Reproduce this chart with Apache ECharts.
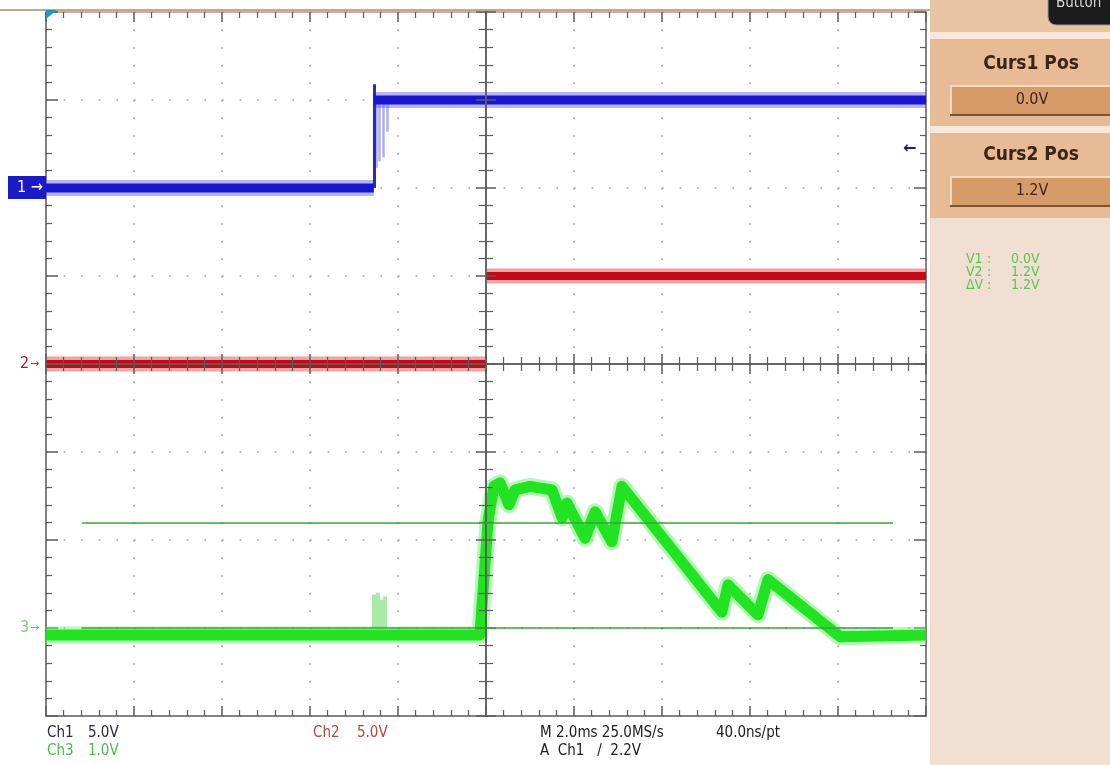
<!DOCTYPE html>
<html>
<head>
<meta charset="utf-8">
<script src="https://cdn.jsdelivr.net/npm/echarts@6/dist/echarts.min.js"></script>
<style>
  body { margin: 0; background: #fff; }
  #main { width: 1110px; height: 765px; }
</style>
</head>
<body>
<div id="main"></div>
<script type="text/javascript">
// time base 2.0 ms/div (x in ms), trace positions in screen divisions (y)
var timeRange = [-10, 10, 2];
var divRange = [-4, 4, 1];

// Ch1 (blue, 5.0V/div)
var ch1Time = [-10, -2.55, -2.55, -2.55, 10];
var ch1Div = [2.0, 2.0, null, 3.0, 3.0];
var ch1EdgeTime = [-2.55];
var ch1EdgeLow = [2.0];
var ch1EdgeHigh = [3.18];
var ch1GlitchTime = [-2.5, -2.42, -2.34, -2.25];
var ch1GlitchLow = [2.23, 2.3, 2.35, 2.64];

// Ch2 (red, 5.0V/div)
var ch2Time = [-10, 0, 0, 0, 10];
var ch2Div = [0.0, 0.0, null, 1.0, 1.0];

// Ch3 (green, 1.0V/div)
var ch3Time = [-10, -0.14, 0.05, 0.18, 0.32, 0.52, 0.66, 1.0, 1.5, 1.73, 1.84, 2.25, 2.48, 2.86, 3.09, 5.36, 5.5, 6.18, 6.41, 8.05, 10];
var ch3Div = [-3.08, -3.08, -1.77, -1.39, -1.35, -1.6, -1.43, -1.39, -1.43, -1.75, -1.58, -1.98, -1.68, -2.02, -1.39, -2.82, -2.51, -2.85, -2.45, -3.1, -3.08];
var ch3GlitchTime = [-2.54, -2.46, -2.38, -2.3];
var ch3GlitchTop = [-2.62, -2.6, -2.68, -2.64];

// cursors (Ch3): 0.0V and 1.2V
var cursorDiv = [-3.0, -1.8];
var cursorSpan = [-9.18, 9.25];

// channel ground markers and trigger level
var markerLabels = ['1', '2', '3'];
var markerDiv = [2.0, 0.0, -3.0];
var triggerDiv = 2.44;

var gridColor = '#5c5c5c';

function pairs(xs, ys) {
  return xs.map(function (x, i) { return [x, ys[i] == null ? '-' : ys[i]]; });
}

function segs(xs, a, b) {
  return xs.map(function (x, i) {
    return { coords: [[x, a[i] != null ? a[i] : a[0]], [x, b[i]]] };
  });
}

function axis(dim, position, opts) {
  var r = dim === 'x' ? timeRange : divRange;
  return {
    type: 'value',
    position: position,
    min: r[0], max: r[1], interval: r[2],
    z: opts.z || 1,
    axisLabel: { show: false },
    axisLine: {
      show: true,
      onZero: !!opts.onZero,
      onZeroAxisIndex: opts.onZero ? opts.zeroIndex : undefined,
      lineStyle: { color: opts.lineColor || gridColor, width: 1.5 }
    },
    axisTick: { show: true, inside: opts.inside, length: opts.major, lineStyle: { color: gridColor, width: 1.5 } },
    minorTick: { show: true, splitNumber: 5, length: opts.minor, lineStyle: { color: gridColor, width: 1.2 } },
    splitLine: {
      show: !!opts.split,
      lineStyle: { color: '#9c9c9c', width: 1.6, type: [1.6, 16] }
    },
    minorSplitLine: { show: false }
  };
}

var chart = echarts.init(document.getElementById('main'));

var option = {
  animation: false,
  backgroundColor: '#ffffff',
  grid: { left: 46, top: 12, width: 880, height: 704, show: false, outerBoundsMode: 'none' },
  xAxis: [
    axis('x', 'bottom', { inside: true, major: 10, minor: 6, split: true }),
    axis('x', 'top', { inside: true, major: 10, minor: 6, lineColor: '#b89484' }),
    axis('x', 'bottom', { onZero: true, zeroIndex: 0, inside: true, major: 10, minor: 7, z: 5 }),
    axis('x', 'bottom', { onZero: true, zeroIndex: 1, inside: false, major: 10, minor: 7, z: 5 })
  ],
  yAxis: [
    axis('y', 'left', { inside: true, major: 12, minor: 6, split: true }),
    axis('y', 'right', { inside: true, major: 12, minor: 6 }),
    axis('y', 'left', { onZero: true, zeroIndex: 0, inside: true, major: 10, minor: 7, z: 5 }),
    axis('y', 'left', { onZero: true, zeroIndex: 1, inside: false, major: 10, minor: 7, z: 5 })
  ],
  series: [
    {
      type: 'lines', coordinateSystem: 'cartesian2d', silent: true, z: 2,
      data: segs(ch1GlitchTime, [3.0], ch1GlitchLow),
      lineStyle: { color: '#aeb0ee', width: 2.5, opacity: 1 }
    },
    {
      type: 'line', data: pairs(ch1Time, ch1Div), symbol: 'none', silent: true, z: 2,
      lineStyle: { color: 'rgba(90,90,235,0.45)', width: 16, cap: 'butt' }
    },
    {
      type: 'line', data: pairs(ch1Time, ch1Div), symbol: 'none', silent: true, z: 3,
      lineStyle: { color: '#1a16cc', width: 9, cap: 'butt' }
    },
    {
      type: 'lines', coordinateSystem: 'cartesian2d', silent: true, z: 3,
      data: segs(ch1EdgeTime, ch1EdgeLow, ch1EdgeHigh),
      lineStyle: { color: '#2a26d0', width: 3, opacity: 1 }
    },
    {
      type: 'line', data: pairs(ch2Time, ch2Div), symbol: 'none', silent: true, z: 2,
      lineStyle: { color: 'rgba(225,70,80,0.5)', width: 15, cap: 'butt' }
    },
    {
      type: 'line', data: pairs(ch2Time, ch2Div), symbol: 'none', silent: true, z: 3,
      lineStyle: { color: '#c40a14', width: 8, cap: 'butt' }
    },
    {
      type: 'lines', coordinateSystem: 'cartesian2d', silent: true, z: 2,
      data: segs(ch3GlitchTime, [-3.0], ch3GlitchTop),
      lineStyle: { color: '#a8eaa8', width: 4, opacity: 1 }
    },
    {
      type: 'line', data: pairs(ch3Time, ch3Div), symbol: 'none', silent: true, z: 2,
      lineStyle: { color: 'rgba(110,240,110,0.5)', width: 17, cap: 'butt', join: 'round' }
    },
    {
      type: 'line', data: pairs(ch3Time, ch3Div), symbol: 'none', silent: true, z: 3,
      lineStyle: { color: '#22e322', width: 11, cap: 'butt', join: 'round' }
    },
    {
      type: 'lines', coordinateSystem: 'cartesian2d', silent: true, z: 6,
      data: cursorDiv.map(function (d) { return { coords: [[cursorSpan[0], d], [cursorSpan[1], d]] }; }),
      lineStyle: { color: '#3f9f3f', width: 1.5, opacity: 1 }
    }
  ]
};

chart.setOption(option);

// overlay: scope frame, channel markers, readouts
var textFont = '"DejaVu Sans Condensed", "Liberation Sans Narrow", "Liberation Sans", sans-serif';
var markerColors = [
  { box: '#1c1ac6', text: '#ffffff' },
  { box: null, text: '#8a2a2a', arrow: '#c82a30' },
  { box: null, text: '#7ccc7c', arrow: '#50c850' }
];

var graphics = [
  { type: 'line', shape: { x1: 0, y1: 10, x2: 930, y2: 10 }, style: { stroke: '#c7a595', lineWidth: 2 }, z: 10 },
  { type: 'polygon', shape: { points: [[46, 10], [57, 10], [46, 19]] }, style: { fill: '#2a98b2' }, z: 11 }
];

markerDiv.forEach(function (d, i) {
  var y = chart.convertToPixel({ yAxisIndex: 0 }, d);
  var c = markerColors[i];
  if (c.box) {
    graphics.push({ type: 'rect', shape: { x: 8, y: y - 12, width: 38, height: 23 }, style: { fill: c.box }, z: 10 });
    graphics.push({ type: 'text', x: 17, y: y, style: { text: markerLabels[i] + ' \u2192', fill: c.text, font: '16px ' + textFont, verticalAlign: 'middle' }, z: 11 });
  } else {
    graphics.push({ type: 'text', x: 20, y: y, style: { text: markerLabels[i], fill: c.text, font: '16px ' + textFont, verticalAlign: 'middle' }, z: 11 });
    graphics.push({ type: 'text', x: 30, y: y, style: { text: '\u2192', fill: c.arrow, font: '11px "DejaVu Sans", sans-serif', verticalAlign: 'middle' }, z: 11 });
  }
});

var trigY = chart.convertToPixel({ yAxisIndex: 0 }, triggerDiv);
graphics.push({ type: 'text', x: 903, y: trigY, style: { text: '\u2190', fill: '#1c1a80', font: 'bold 16px "DejaVu Sans", sans-serif', verticalAlign: 'middle' }, z: 11 });

// bottom status line
var statusTexts = [
  ['Ch1', 47, 733, '#2a2a48'], ['5.0V', 88, 733, '#2a2a48'],
  ['Ch2', 313, 733, '#b04848'], ['5.0V', 357, 733, '#b04848'],
  ['M 2.0ms 25.0MS/s', 540, 733, '#202020'], ['40.0ns/pt', 716, 733, '#202020'],
  ['Ch3', 47, 751, '#48c048'], ['1.0V', 88, 751, '#48c048'],
  ['A  Ch1   /  2.2V', 540, 751, '#202020']
];
statusTexts.forEach(function (t) {
  graphics.push({ type: 'text', x: t[1], y: t[2], style: { text: t[0], fill: t[3], font: '15px ' + textFont, verticalAlign: 'middle' }, z: 11 });
});

// right-hand menu panel
var panel = [
  { type: 'rect', shape: { x: 930, y: 0, width: 180, height: 765 }, style: { fill: '#f1e0d1' } },
  { type: 'rect', shape: { x: 930, y: 0, width: 180, height: 32 }, style: { fill: '#e9c4a3' } },
  { type: 'rect', shape: { x: 930, y: 32, width: 180, height: 7 }, style: { fill: '#f8e7da' } },
  { type: 'rect', shape: { x: 930, y: 39, width: 180, height: 87 }, style: { fill: '#e6bb96' } },
  { type: 'rect', shape: { x: 930, y: 126, width: 180, height: 7 }, style: { fill: '#f8e7da' } },
  { type: 'rect', shape: { x: 930, y: 133, width: 180, height: 85 }, style: { fill: '#e6bb96' } },
  { type: 'rect', shape: { x: 1048, y: -12, width: 72, height: 37, r: 8 }, style: { fill: '#1c1c1c', stroke: '#9a9a9a', lineWidth: 1 } },
  { type: 'text', x: 1056, y: -4, style: { text: 'Button', fill: '#d8d8d8', font: '15px ' + textFont } }
];
[[85, '0.0V', 'Curs1 Pos', 64], [176, '1.2V', 'Curs2 Pos', 155]].forEach(function (f) {
  panel.push({ type: 'rect', shape: { x: 950, y: f[0], width: 160, height: 31 }, style: { fill: '#d59c69' } });
  panel.push({ type: 'line', shape: { x1: 950, y1: f[0] + 1, x2: 1110, y2: f[0] + 1 }, style: { stroke: '#f6d8bc', lineWidth: 2 } });
  panel.push({ type: 'line', shape: { x1: 951, y1: f[0], x2: 951, y2: f[0] + 31 }, style: { stroke: '#f6d8bc', lineWidth: 2 } });
  panel.push({ type: 'line', shape: { x1: 950, y1: f[0] + 30, x2: 1110, y2: f[0] + 30 }, style: { stroke: '#7a5236', lineWidth: 2 } });
  panel.push({ type: 'text', x: 1032, y: f[0] + 15, style: { text: f[1], fill: '#4a1c1c', font: '16px ' + textFont, align: 'center', verticalAlign: 'middle' } });
  panel.push({ type: 'text', x: 1031, y: f[3], style: { text: f[2], fill: '#3a2418', font: 'bold 19px "DejaVu Sans Condensed", "DejaVu Sans", sans-serif', align: 'center', verticalAlign: 'middle' } });
});
[['V1', '0.0V', 259], ['V2', '1.2V', 272], ['\u0394V', '1.2V', 285]].forEach(function (r) {
  panel.push({ type: 'text', x: 966, y: r[2], style: { text: r[0], fill: '#52c852', font: '14px ' + textFont, verticalAlign: 'middle' } });
  panel.push({ type: 'text', x: 987, y: r[2], style: { text: ':', fill: '#52c852', font: '14px ' + textFont, verticalAlign: 'middle' } });
  panel.push({ type: 'text', x: 1011, y: r[2], style: { text: r[1], fill: '#52c852', font: '14px ' + textFont, verticalAlign: 'middle' } });
});
panel.forEach(function (g) { g.z = 20; graphics.push(g); });

chart.setOption({ graphic: graphics });
</script>
</body>
</html>
